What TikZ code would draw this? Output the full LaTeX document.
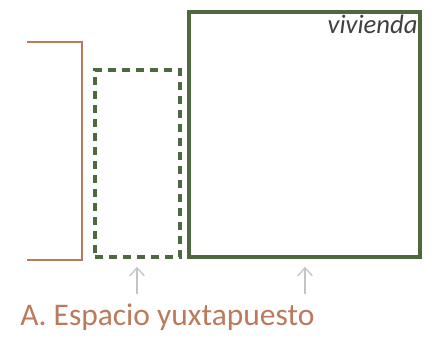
\documentclass[tikz,border=0pt]{standalone}
\usepackage{fontspec}
\setmainfont{Carlito}
\usetikzlibrary{arrows.meta}
\definecolor{brown}{RGB}{187, 122, 92}
\definecolor{darkgreen}{RGB}{78, 104, 64}
\definecolor{lightgray}{RGB}{196, 196, 196}
\tikzset{%
    caja/.style={%
        draw=darkgreen,
        line width=2.8pt,
        inner sep=0pt
    },
    flecha/.style={%
        ->,
        >={Straight Barb[length=6pt, width=11pt]},
        lightgray,
        line width=1pt
    }
}

\begin{document}
\begin{tikzpicture}[x=0.75pt, y=-0.75pt]

    \useasboundingbox (0, 0) rectangle (431, 337);

    % Existing dwelling
    \node[caja, minimum width=231*0.75pt, minimum height=245*0.75pt]
        (vivienda) at (304.5, 134.5) {};
    \node[anchor=north east, inner sep=0pt, text=black!75, font=\itshape\fontsize{20}{20}\selectfont]
        (etiqueta) at ([xshift=-3pt, yshift=-3.5pt] vivienda.north east) {vivienda};

    % Adjoining space
    \node[%
        caja,
        line width=2.8pt,
        dash pattern=on 6pt off 4.5pt,
        minimum width=85*0.75pt,
        minimum height=187*0.75pt
    ] (adjunto) at (137.5, 163.5) {};

    % Plot bracket
    \coordinate (lote1) at (27, 42);
    \coordinate (lote2) at (27, 260);
    \draw[brown, line width=1.2pt] (lote1) -| (82, 260) -- (lote2);

    % Caption
    \node[anchor=base west, inner sep=0pt, text=brown, font=\fontsize{23.6}{23.6}\selectfont]
        (titulo) at (20, 325) {A. Espacio yuxtapuesto};

    % Arrows
    \coordinate (base1) at (137, 294);
    \coordinate (base2) at (305, 294);
    \draw[flecha] (base1) -- ([yshift=-6pt] base1 |- adjunto.south);
    \draw[flecha] (base2) -- ([yshift=-6pt] base2 |- vivienda.south);

\end{tikzpicture}
\end{document}
